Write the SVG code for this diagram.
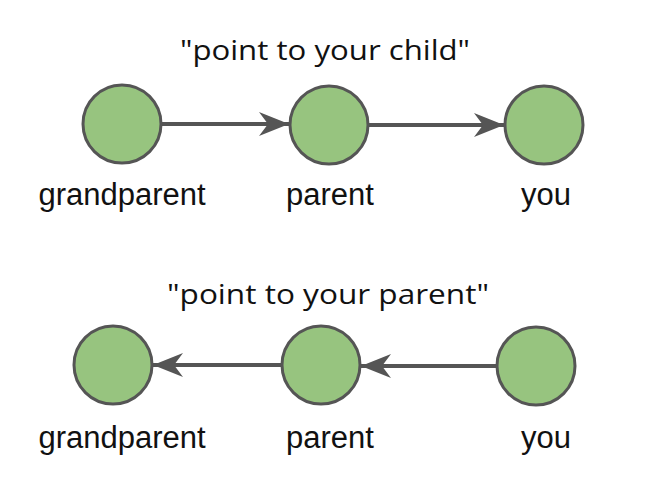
<svg xmlns="http://www.w3.org/2000/svg" width="658" height="488" viewBox="0 0 658 488">
<defs>
<style>
.node circle{fill:#97c47f;stroke:#555;stroke-width:3}
.lbl{font-family:"Liberation Sans",Arial,sans-serif;font-size:31px;fill:#111;text-anchor:middle}
.ttl{font-family:"Open Sans","DejaVu Sans",sans-serif;font-size:27px;fill:#111;text-anchor:middle}
.edge{stroke:#555;stroke-width:4;fill:none}
</style>
<marker id="ah" markerUnits="userSpaceOnUse" markerWidth="32" markerHeight="30" viewBox="-30 -15 32 30" refX="0" refY="0" orient="auto">
<path d="M0,0 L-30,-12 L-21,0 L-30,12 Z" fill="#555"/>
</marker>
</defs>
<rect width="658" height="488" fill="#fff"/>
<text class="ttl" x="325" y="60" textLength="290" lengthAdjust="spacingAndGlyphs">"point to your child"</text>
<text class="ttl" x="328" y="304" textLength="322" lengthAdjust="spacingAndGlyphs">"point to your parent"</text>
<g id="connectors">
<line class="edge" x1="160" y1="124" x2="289" y2="124" marker-end="url(#ah)"/>
<line class="edge" x1="368" y1="125" x2="504" y2="125" marker-end="url(#ah)"/>
<line class="edge" x1="282" y1="365" x2="153" y2="365" marker-end="url(#ah)"/>
<line class="edge" x1="497" y1="366" x2="361" y2="366" marker-end="url(#ah)"/>
</g>
<g id="n1" class="node"><circle cx="122" cy="124" r="39"/><text class="lbl" x="122" y="205">grandparent</text></g>
<g id="n2" class="node"><circle cx="329" cy="125" r="39"/><text class="lbl" x="330" y="205">parent</text></g>
<g id="n3" class="node"><circle cx="544" cy="125" r="39"/><text class="lbl" x="546" y="205">you</text></g>
<g id="n4" class="node"><circle cx="113" cy="365" r="39"/><text class="lbl" x="122" y="448">grandparent</text></g>
<g id="n5" class="node"><circle cx="321" cy="365" r="39"/><text class="lbl" x="330" y="448">parent</text></g>
<g id="n6" class="node"><circle cx="536" cy="366" r="39"/><text class="lbl" x="546" y="448">you</text></g>
</svg>
